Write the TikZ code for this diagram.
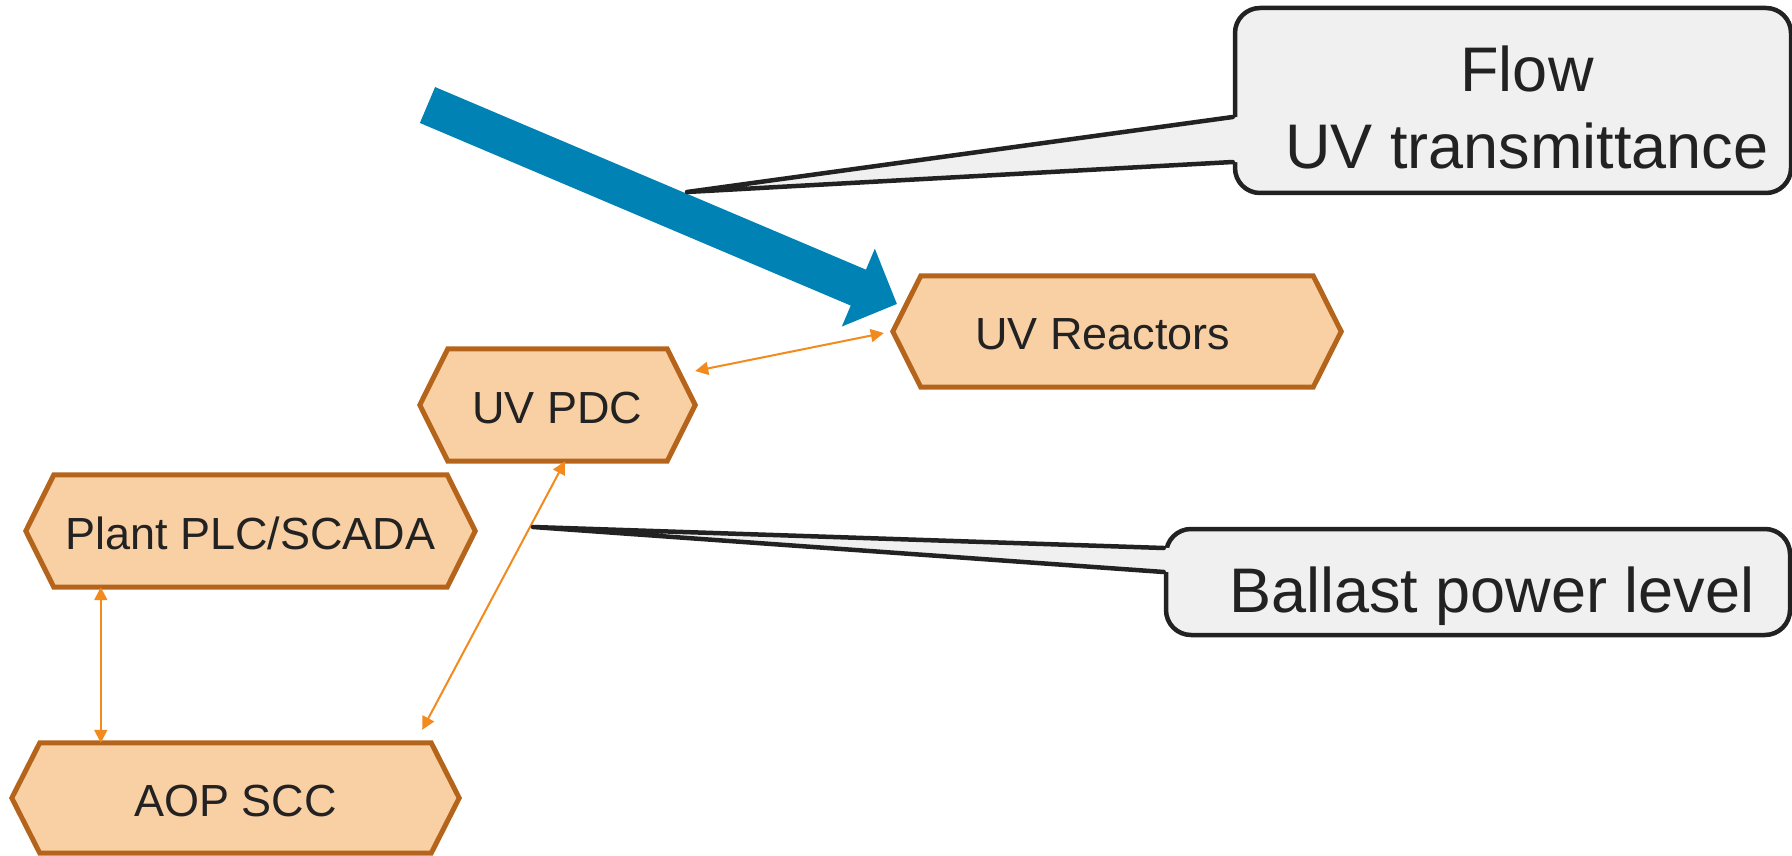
\documentclass[tikz,border=0pt]{standalone}
\usepackage{fontspec}
\setmainfont{Liberation Sans}
\usetikzlibrary{arrows.meta,backgrounds}

\definecolor{flowblue}{HTML}{0083B4}
\definecolor{hexfill}{HTML}{F9CFA4}
\definecolor{hexedge}{HTML}{B5651B}
\definecolor{linkorange}{HTML}{F28A1E}
\definecolor{notefill}{HTML}{F0F0F0}
\definecolor{inkdark}{HTML}{222222}

\tikzset{
  hexbox/.style={inner sep=0pt, text height=36pt, text depth=0pt,
    font=\fontsize{45}{54}\selectfont, text=inkdark},
  hexpath/.style={fill=hexfill, draw=hexedge, line width=5pt, line join=miter},
  link/.style={draw=linkorange, line width=2pt,
    {Triangle[length=13pt,width=13pt]}-{Triangle[length=13pt,width=13pt]}},
  notebox/.style={draw=inkdark, fill=notefill, line width=4.5pt,
    rounded corners=25pt, inner sep=0pt},
  notetext/.style={font=\fontsize{63}{77}\selectfont, text=inkdark, align=center},
  pointer/.style={draw=inkdark, line width=4.5pt, line cap=round, line join=round},
}

\begin{document}
\begin{tikzpicture}[x=1pt,y=-1pt]
\useasboundingbox (0,0) rectangle (1792,856);

% control system blocks
\node[hexbox, minimum width=448pt, minimum height=111pt] (reac) at (1117,331.5) {UV Reactors\hspace*{28pt}};
\node[hexbox, minimum width=275pt, minimum height=112pt] (pdc) at (557.5,405) {UV PDC};
\node[hexbox, minimum width=449pt, minimum height=112pt] (plc) at (250.5,531) {Plant PLC/SCADA};
\node[hexbox, minimum width=447pt, minimum height=110pt] (aop) at (235.5,798) {AOP SCC};

% hexagonal outlines behind the labels
\begin{pgfonlayer}{background}
\foreach \n in {reac,pdc,plc,aop}
  \draw[hexpath] (\n.west) -- ([xshift=28pt]\n.north west) -- ([xshift=-28pt]\n.north east)
    -- (\n.east) -- ([xshift=-28pt]\n.south east) -- ([xshift=28pt]\n.south west) -- cycle;
\end{pgfonlayer}

% incoming water flow
\coordinate (flowin) at (427.5,105);
\coordinate (flowend) at (897,304);
\draw[draw=flowblue, line width=39pt, -{Triangle[length=42pt,width=82pt]}] (flowin) -- (flowend);

% communication links
\draw[link] ([yshift=34pt]pdc.east) -- ([xshift=-9pt,yshift=-1.5pt]reac.west);
\draw[link] ([xshift=7.5pt]pdc.south) -- ([xshift=-37pt,yshift=13pt]aop.north east);
\coordinate (plcfoot) at ([xshift=75pt]plc.south west);
\draw[link] (plcfoot) -- (plcfoot |- aop.north);

% callout: measured inputs
\node[notebox, minimum width=556pt, minimum height=185pt] (flowbox) at (1513,100.5) {};
\node[notetext] (flowtext) at (1527,107) {Flow\\UV transmittance};
\coordinate (flowpin) at (687,192);
\fill[notefill] (flowpin) -- ([xshift=5pt,yshift=-16.5pt]flowbox.west)
  -- ([xshift=5pt,yshift=-61.5pt]flowbox.west) -- cycle;
\draw[pointer] ([yshift=-16.5pt]flowbox.west) -- (flowpin) -- ([yshift=-61.5pt]flowbox.west);

% callout: ballast output
\node[notebox, minimum width=624pt, minimum height=106pt] (ballastbox) at (1478,582) {};
\node[notetext, anchor=base] (ballasttext) at (1492,612) {Ballast power level};
\coordinate (ballastpin) at (533,527);
\fill[notefill] (ballastpin) -- ([xshift=5pt,yshift=34pt]ballastbox.west)
  -- ([xshift=5pt,yshift=10pt]ballastbox.west) -- cycle;
\draw[pointer] ([yshift=34pt]ballastbox.west) -- (ballastpin) -- ([yshift=10pt]ballastbox.west);
\end{tikzpicture}
\end{document}
